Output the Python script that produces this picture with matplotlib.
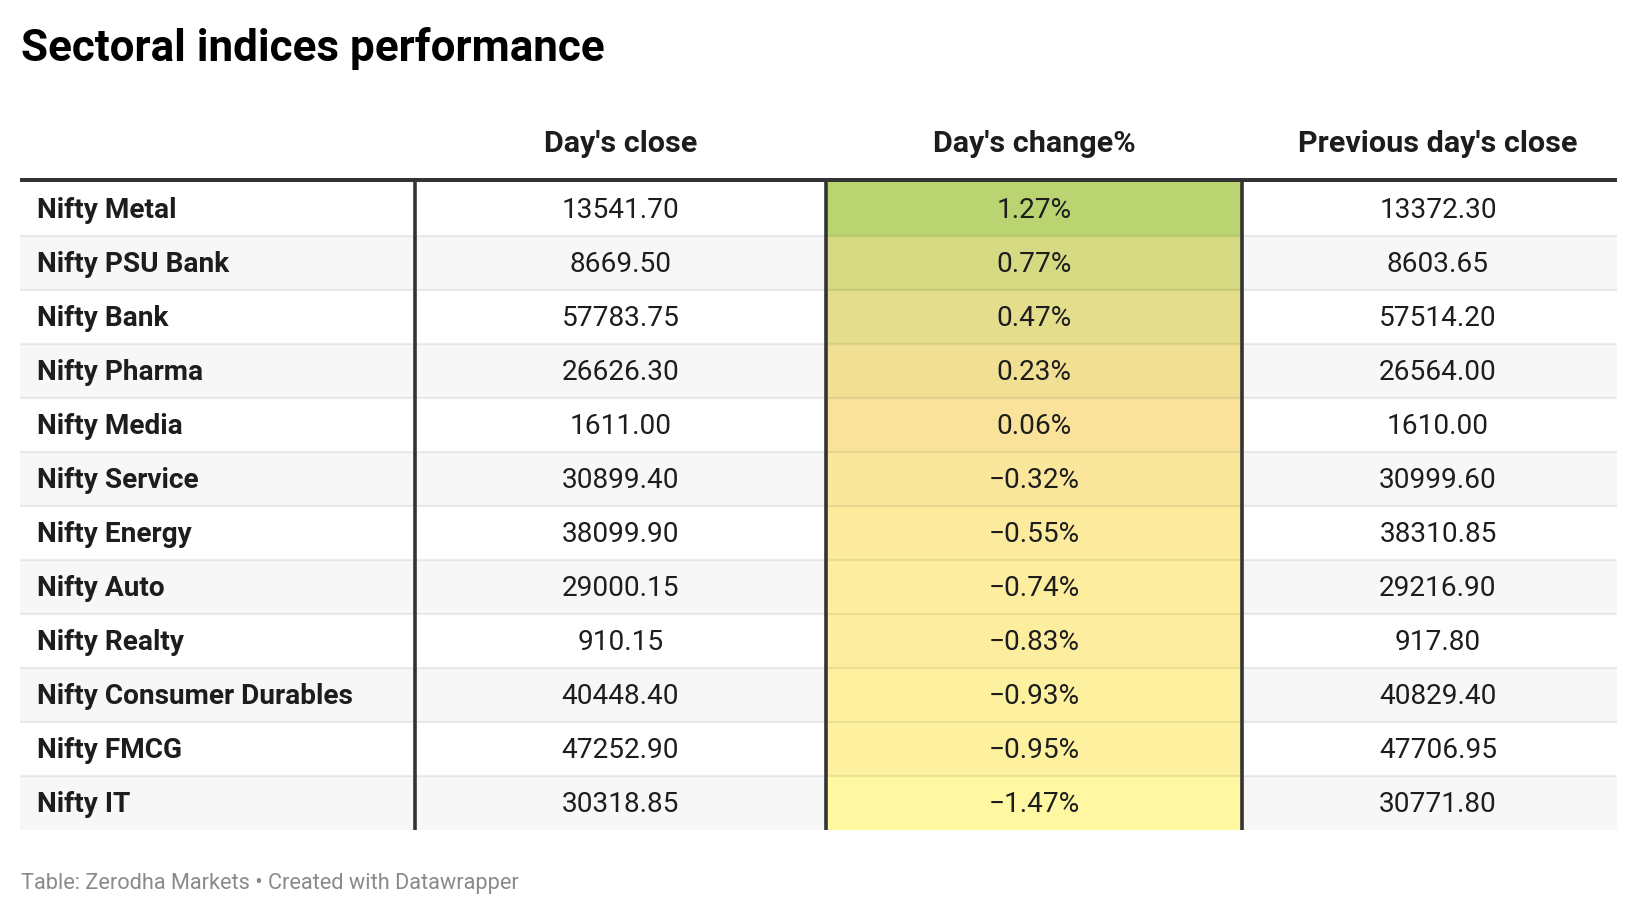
import matplotlib
matplotlib.use("Agg")
import matplotlib.pyplot as plt
from matplotlib.colors import LinearSegmentedColormap, Normalize
from matplotlib.patches import Rectangle

plt.rcParams['font.family'] = ['Roboto', 'DejaVu Sans']

title = "Sectoral indices performance"
footer = "Table: Zerodha Markets \u2022 Created with Datawrapper"
col_headers = ["Day's close", "Day's change%", "Previous day's close"]
names = ["Nifty Metal", "Nifty PSU Bank", "Nifty Bank", "Nifty Pharma", "Nifty Media",
         "Nifty Service", "Nifty Energy", "Nifty Auto", "Nifty Realty",
         "Nifty Consumer Durables", "Nifty FMCG", "Nifty IT"]
day_close = [13541.70, 8669.50, 57783.75, 26626.30, 1611.00, 30899.40, 38099.90,
             29000.15, 910.15, 40448.40, 47252.90, 30318.85]
day_change = [1.27, 0.77, 0.47, 0.23, 0.06, -0.32, -0.55, -0.74, -0.83, -0.93, -0.95, -1.47]
prev_close = [13372.30, 8603.65, 57514.20, 26564.00, 1610.00, 30999.60, 38310.85,
              29216.90, 917.80, 40829.40, 47706.95, 30771.80]

W, H = 1636, 914
fig = plt.figure(figsize=(W / 100, H / 100), dpi=100)
ax = fig.add_axes([0, 0, 1, 1])
ax.set_xlim(0, W)
ax.set_ylim(H, 0)
ax.axis('off')

# layout (pixels)
left, right = 20, 1617
col_x = [left, 415, 826, 1242, right]
centers = [(col_x[1] + col_x[2]) / 2, (col_x[2] + col_x[3]) / 2, 1438]
top = 182
row_h = 54
text_c = '#1d1d1d'
px = 0.72  # px -> pt at 100 dpi

# colour scale for day's change
vmin, vmax = min(day_change), max(day_change)
mid = 0.06
fmid = (mid - vmin) / (vmax - vmin)
cmap = LinearSegmentedColormap.from_list(
    'chg', [(0.0, '#fff7a2'), (fmid, '#fae29a'), (1.0, '#bbd472')])
norm = Normalize(vmin, vmax)

ax.text(21, 61, title, fontsize=44 * px, fontweight='bold', color='#000000',
        ha='left', va='baseline')

header_y = 144
for j, h in enumerate(col_headers):
    ax.text(centers[j], header_y, h, fontsize=30.5 * px, fontweight='bold', color=text_c,
            ha='center', va='center')

n = len(names)
for i in range(n):
    y0 = top + i * row_h
    yc = y0 + row_h / 2 + 2
    if i % 2 == 1:
        ax.add_patch(Rectangle((left, y0), right - left, row_h, facecolor='#f7f7f7',
                               edgecolor='none', zorder=1))
    ax.add_patch(Rectangle((col_x[2], y0), col_x[3] - col_x[2], row_h,
                           facecolor=cmap(norm(day_change[i])), edgecolor='none', zorder=2))
    if i > 0:
        ax.plot([left, right], [y0, y0], color=(0, 0, 0, 0.07), lw=2.2 * px,
                solid_capstyle='butt', zorder=3)
    ax.text(37, yc, names[i], fontsize=28 * px, fontweight='bold', color=text_c,
            ha='left', va='center', zorder=5)
    ax.text(centers[0], yc, f"{day_close[i]:.2f}", fontsize=28 * px,
            color=text_c, ha='center', va='center', zorder=5)
    chg = f"{day_change[i]:.2f}%".replace('-', '\u2212')
    ax.text(centers[1], yc, chg, fontsize=28 * px,
            color=text_c, ha='center', va='center', zorder=5)
    ax.text(centers[2], yc, f"{prev_close[i]:.2f}", fontsize=28 * px,
            color=text_c, ha='center', va='center', zorder=5)

bottom = top + n * row_h
for x in col_x[1:4]:
    ax.plot([x, x], [top - 2, bottom], color='#333333', lw=3.6 * px,
            solid_capstyle='butt', zorder=6)
ax.plot([left, right], [180, 180], color='#333333', lw=4 * px,
        solid_capstyle='butt', zorder=7)

ax.text(21, 883, footer, fontsize=21.8 * px, color='#8a8a8a', ha='left', va='center')

fig.savefig('out.png', dpi=100, facecolor='white')
